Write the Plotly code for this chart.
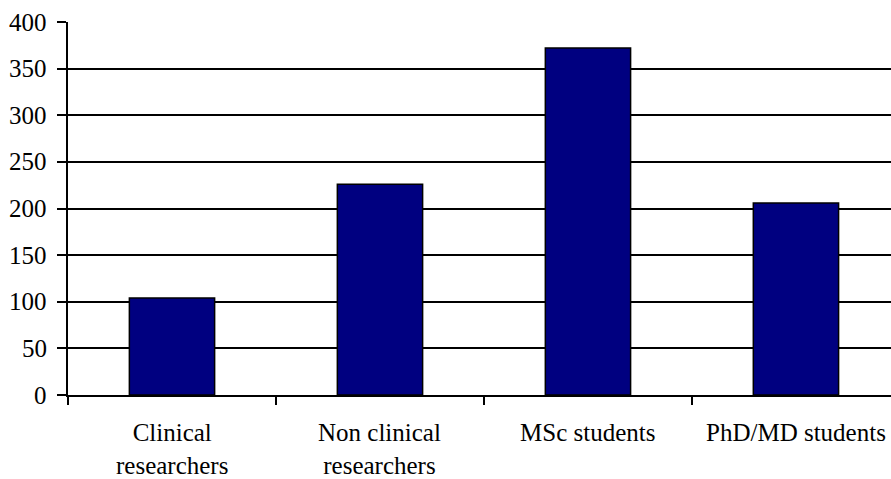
import plotly.graph_objects as go

# Respondent groups and their counts
categories = ["Clinical researchers", "Non clinical researchers", "MSc students", "PhD/MD students"]
tick_labels = ["Clinical<br>researchers", "Non clinical<br>researchers", "MSc students", "PhD/MD students"]
counts = [104, 226, 372, 206]
y_ticks = [0, 50, 100, 150, 200, 250, 300, 350, 400]

font_family = "Liberation Serif"
font_size = 25
label_font = dict(family=font_family, size=font_size, color="black")

fig = go.Figure(
    go.Bar(
        x=categories,
        y=counts,
        width=0.41,
        marker=dict(color="#000080", line=dict(color="black", width=1.5)),
    )
)

fig.update_layout(
    width=891,
    height=479,
    margin=dict(l=68, r=0, t=22, b=84),
    plot_bgcolor="white",
    paper_bgcolor="white",
    showlegend=False,
    font=label_font,
)

fig.update_xaxes(
    type="category",
    range=[-0.5, 3.457],
    tickson="boundaries",
    ticks="outside",
    ticklen=8,
    tickwidth=1.5,
    tickcolor="black",
    showticklabels=False,
    showline=True,
    linecolor="black",
    linewidth=1.5,
    showgrid=False,
)

fig.update_yaxes(
    range=[0, 400],
    tickmode="array",
    tickvals=y_ticks,
    ticks="outside",
    ticklen=9,
    tickwidth=1.5,
    tickcolor="black",
    showticklabels=False,
    showline=True,
    linecolor="black",
    linewidth=1.5,
    showgrid=True,
    gridcolor="black",
    gridwidth=1.5,
    zeroline=False,
)

# Category labels under the axis (serif text)
for cat, lab in zip(categories, tick_labels):
    fig.add_annotation(
        x=cat, xref="x", y=0, yref="paper",
        text=lab, showarrow=False,
        xanchor="center", yanchor="top", yshift=-22,
        font=label_font,
    )

# Value labels left of the y axis
for v in y_ticks:
    fig.add_annotation(
        x=0, xref="paper", y=v, yref="y",
        text=str(v), showarrow=False,
        xanchor="right", yanchor="middle", xshift=-19,
        font=label_font,
    )

fig.write_html("out.html")
